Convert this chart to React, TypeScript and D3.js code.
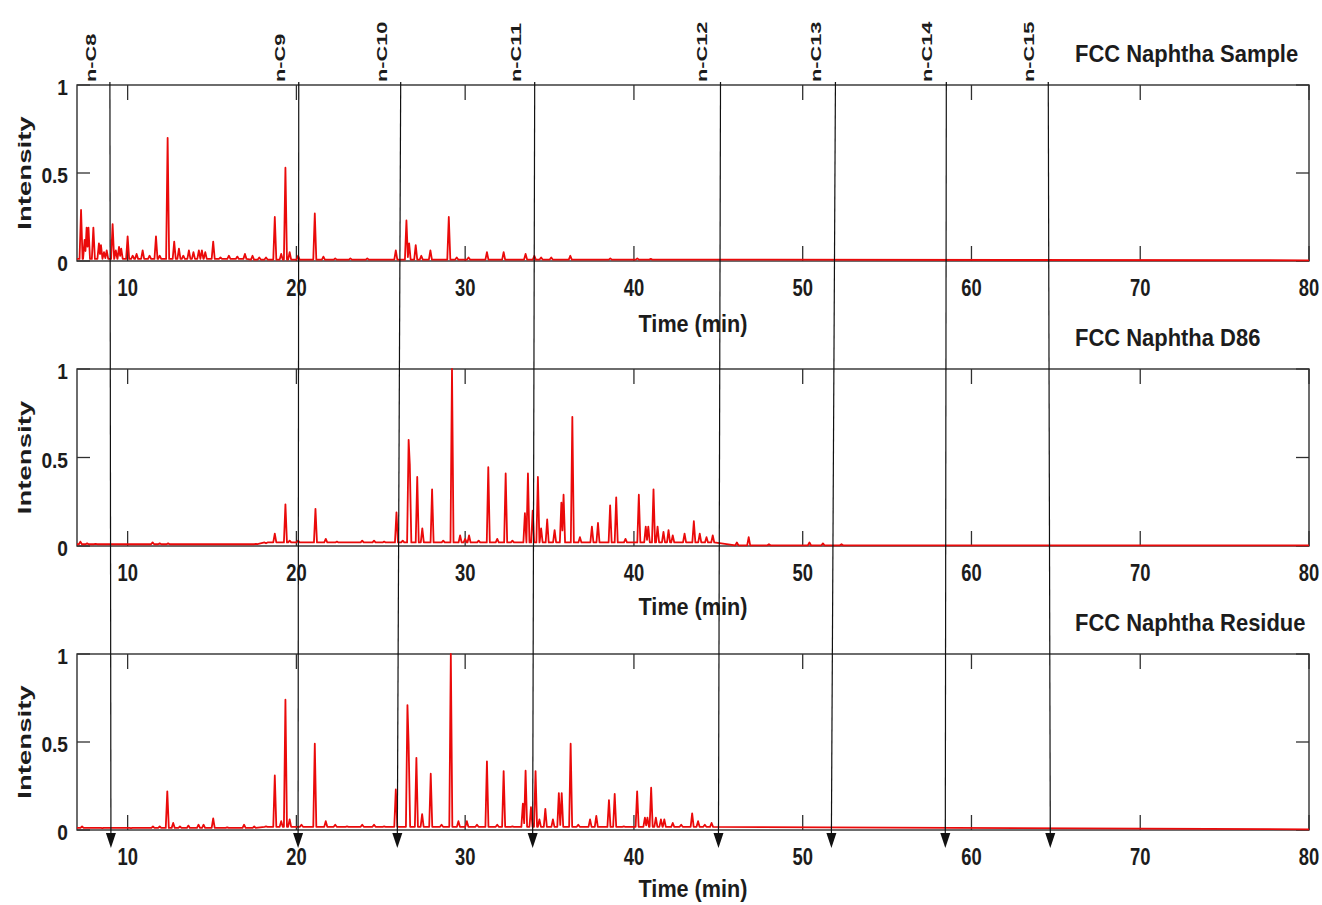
import React from 'react';
import * as d3 from 'd3';

// Retention-time axis (minutes) and intensity axis
const timeDomain: [number, number] = [7, 80];
const timeTicks = [10, 20, 30, 40, 50, 60, 70, 80];
const intensityTicks = [0, 0.5, 1];
const intensityTickLabels = ['0', '0.5', '1'];

// n-alkane reference markers: retention time where each marker crosses the top and the bottom
const alkaneLabels = ['n-C8', 'n-C9', 'n-C10', 'n-C11', 'n-C12', 'n-C13', 'n-C14', 'n-C15'];
const alkaneTopTimes = [8.95, 20.14, 26.18, 34.12, 45.13, 51.94, 58.51, 64.55];
const alkaneBottomTimes = [9.01, 20.1, 25.98, 34.0, 45.01, 51.7, 58.45, 64.67];

const panelTitles = ['FCC Naphtha Sample', 'FCC Naphtha D86', 'FCC Naphtha Residue'];

// Chromatogram peaks: [retention time (min), normalised intensity]
const samplePeaks: [number, number][] = [
  [7.24, 0.29], [7.45, 0.12], [7.57, 0.19], [7.68, 0.19], [7.97, 0.19], [8.3, 0.1], [8.42, 0.09],
  [8.6, 0.05], [8.76, 0.06], [9.11, 0.21], [9.3, 0.06], [9.49, 0.08], [9.62, 0.07], [10.0, 0.14],
  [10.3, 0.03], [10.53, 0.04], [10.89, 0.06], [11.3, 0.03], [11.68, 0.14], [11.9, 0.03], [12.37, 0.7],
  [12.76, 0.11], [13.04, 0.07], [13.3, 0.03], [13.63, 0.06], [13.9, 0.05], [14.22, 0.06], [14.4, 0.06],
  [14.6, 0.05], [15.07, 0.11], [15.5, 0.02], [16.0, 0.03], [16.5, 0.025], [16.95, 0.04], [17.4, 0.03],
  [17.8, 0.02], [18.2, 0.02], [18.72, 0.25], [19.1, 0.04], [19.35, 0.53], [19.6, 0.05], [20.1, 0.03],
  [21.09, 0.27], [21.6, 0.025], [22.3, 0.015], [23.2, 0.015], [24.2, 0.015], [25.89, 0.06], [26.52, 0.23],
  [26.68, 0.1], [27.07, 0.09], [27.4, 0.03], [27.94, 0.06], [29.03, 0.25], [29.5, 0.02], [30.2, 0.02],
  [31.29, 0.05], [32.28, 0.05], [33.58, 0.04], [34.1, 0.03], [34.5, 0.02], [35.1, 0.02], [36.23, 0.03],
  [38.6, 0.015], [40.2, 0.015], [41.0, 0.012],
];

const d86Peaks: [number, number][] = [
  [7.2, 0.025], [7.6, 0.015], [8.1, 0.012], [10.4, 0.01], [11.48, 0.02], [11.9, 0.015], [12.4, 0.015],
  [16.9, 0.01], [17.6, 0.012], [18.2, 0.015], [18.72, 0.07], [19.35, 0.235], [19.6, 0.03], [20.1, 0.03],
  [21.13, 0.21], [21.74, 0.04], [22.4, 0.025], [23.3, 0.02], [23.9, 0.03], [24.6, 0.03], [25.2, 0.025],
  [25.93, 0.19], [26.3, 0.03], [26.65, 0.6], [26.72, 0.46], [27.16, 0.39], [27.46, 0.1], [28.04, 0.32],
  [28.7, 0.03], [29.22, 1.0], [29.7, 0.06], [30.0, 0.04], [30.23, 0.06], [30.8, 0.03], [31.37, 0.445],
  [31.9, 0.04], [32.4, 0.41], [32.8, 0.03], [33.54, 0.185], [33.72, 0.41], [34.0, 0.2], [34.31, 0.39],
  [34.5, 0.1], [34.86, 0.15], [35.3, 0.09], [35.7, 0.245], [35.83, 0.29], [36.35, 0.73], [36.8, 0.05],
  [37.51, 0.11], [37.87, 0.13], [38.59, 0.23], [38.95, 0.275], [39.5, 0.04], [40.29, 0.29], [40.7, 0.11],
  [40.85, 0.11], [41.16, 0.32], [41.4, 0.11], [41.75, 0.08], [42.05, 0.09], [42.3, 0.06], [43.0, 0.07],
  [43.55, 0.14], [43.9, 0.07], [44.3, 0.05], [44.67, 0.06], [46.1, 0.02], [46.8, 0.05], [48.0, 0.01],
  [50.4, 0.02], [51.2, 0.015], [52.3, 0.01],
];

const residuePeaks: [number, number][] = [
  [7.3, 0.02], [8.5, 0.01], [10.2, 0.01], [11.5, 0.02], [11.9, 0.02], [12.35, 0.22], [12.7, 0.04],
  [13.1, 0.02], [13.6, 0.025], [14.2, 0.03], [14.5, 0.03], [15.07, 0.066], [15.9, 0.015], [16.9, 0.03],
  [17.5, 0.02], [18.2, 0.02], [18.72, 0.31], [19.1, 0.05], [19.35, 0.74], [19.6, 0.06], [20.3, 0.03],
  [21.09, 0.49], [21.74, 0.05], [22.3, 0.03], [23.0, 0.02], [23.9, 0.03], [24.6, 0.03], [25.2, 0.02],
  [25.89, 0.23], [26.58, 0.71], [26.65, 0.49], [27.11, 0.41], [27.45, 0.09], [27.96, 0.32], [28.6, 0.03],
  [29.15, 1.0], [29.6, 0.05], [30.1, 0.05], [30.7, 0.03], [31.29, 0.39], [31.9, 0.03], [32.28, 0.335],
  [32.8, 0.02], [33.42, 0.15], [33.58, 0.337], [33.9, 0.13], [34.17, 0.335], [34.4, 0.06], [34.75, 0.12],
  [35.2, 0.06], [35.55, 0.21], [35.72, 0.21], [36.25, 0.49], [36.7, 0.03], [37.4, 0.06], [37.77, 0.08],
  [38.52, 0.17], [38.86, 0.205], [39.4, 0.02], [40.19, 0.22], [40.65, 0.07], [40.8, 0.07], [41.02, 0.24],
  [41.3, 0.07], [41.6, 0.06], [41.8, 0.06], [42.3, 0.04], [42.8, 0.03], [43.45, 0.095], [43.8, 0.05],
  [44.2, 0.03], [44.6, 0.04],
];

// Baseline level of each trace: [time from which the level applies, level]
const sampleBaseline: [number, number][] = [[7, 0.012], [17, 0.008], [44, 0.004]];
const d86Baseline: [number, number][] = [[7, 0.01], [18, 0.02], [44.8, 0.004]];
const residueBaseline: [number, number][] = [[7, 0.012], [18, 0.018], [44.9, 0.004]];

const traces = [
  { peaks: samplePeaks, baseline: sampleBaseline },
  { peaks: d86Peaks, baseline: d86Baseline },
  { peaks: residuePeaks, baseline: residueBaseline },
];

// Layout
const WIDTH = 1322;
const HEIGHT = 905;
const PLOT_LEFT = 77;
const PLOT_RIGHT = 1309;
const panelTops = [85, 369, 654];
const panelBottoms = [261, 546, 830];
const axisTitleBaselines = [332, 615, 897];
const titleLeft = 1075;
const MARKER_TOP = 82;
const ARROW_TIP = 848;
const ARROW_LEN = 15;
const ARROW_HALF = 5;
const PEAK_HALF_WIDTH = 0.09;
const SHOULDER_GAP = 0.1;

const RED = '#ea0a0a';
const INK = '#1c1c1c';
const FRAME = '#303030';
const FONT = "'Liberation Sans', Arial, Helvetica, sans-serif";

// Each peak is a narrow spike on the baseline; neighbouring spikes that overlap
// meet where their flanks cross, and very close ones form a shoulder.
function tracePoints(peaks: [number, number][], baseline: [number, number][]): [number, number][] {
  const hw = PEAK_HALF_WIDTH;
  const level = (t: number) => {
    let v = baseline[0][1];
    for (const [bt, bv] of baseline) if (t >= bt) v = bv;
    return v;
  };
  const sorted = [...peaks].sort((a, b) => a[0] - b[0]);
  const pts: [number, number][] = [[timeDomain[0], level(timeDomain[0])]];
  sorted.forEach(([t, h], i) => {
    const prev = sorted[i - 1];
    if (!prev || prev[0] + hw < t - hw - 1e-6) {
      if (prev) pts.push([prev[0] + hw, level(prev[0])]);
      pts.push([t - hw, level(t)]);
    } else if (t - prev[0] >= SHOULDER_GAP) {
      const b = level(t);
      const s1 = (prev[1] - b) / hw;
      const s2 = (h - b) / hw;
      const tv = (prev[1] - b + s1 * prev[0] + s2 * (t - hw)) / (s1 + s2);
      if (tv > prev[0] && tv < t) pts.push([tv, prev[1] - s1 * (tv - prev[0])]);
    }
    pts.push([t, h]);
  });
  const last = sorted[sorted.length - 1];
  pts.push([last[0] + hw, level(last[0])]);
  pts.push([timeDomain[1], level(timeDomain[1])]);
  return pts;
}

type TextProps = {
  x: number;
  y: number;
  size: number;
  sx?: number;
  sy?: number;
  rotate?: number;
  anchor?: 'start' | 'middle' | 'end';
  children: React.ReactNode;
};

function Txt({ x, y, size, sx = 1, sy = 1, rotate = 0, anchor = 'middle', children }: TextProps) {
  return (
    <text
      transform={`translate(${x},${y}) rotate(${rotate}) scale(${sx},${sy})`}
      fontSize={size}
      textAnchor={anchor}
      fill={INK}
      fontWeight="bold"
      fontFamily={FONT}
    >
      {children}
    </text>
  );
}

export default function App() {
  const x = d3.scaleLinear().domain(timeDomain).range([PLOT_LEFT, PLOT_RIGHT]);

  return (
    <svg
      width={WIDTH}
      height={HEIGHT}
      viewBox={`0 0 ${WIDTH} ${HEIGHT}`}
      style={{ position: 'absolute', left: 0, top: 0, background: '#fff' }}
    >
      <rect x={0} y={0} width={WIDTH} height={HEIGHT} fill="#fff" />
      <defs>
        {panelTops.map((top, i) => (
          <clipPath id={`plot-clip-${i}`} key={i}>
            <rect x={PLOT_LEFT} y={top - 1} width={PLOT_RIGHT - PLOT_LEFT} height={panelBottoms[i] - top + 2} />
          </clipPath>
        ))}
      </defs>

      {traces.map((tr, i) => {
        const top = panelTops[i];
        const bottom = panelBottoms[i];
        const y = d3.scaleLinear().domain([0, 1]).range([bottom, top]);
        const line = d3
          .line<[number, number]>()
          .x((d) => x(d[0]))
          .y((d) => y(d[1]));
        const path = line(tracePoints(tr.peaks, tr.baseline)) || '';
        const midY = (top + bottom) / 2;
        return (
          <g key={i}>
            {/* frame */}
            <rect
              x={PLOT_LEFT}
              y={top}
              width={PLOT_RIGHT - PLOT_LEFT}
              height={bottom - top}
              fill="none"
              stroke={FRAME}
              strokeWidth={1.4}
            />
            {/* inward time ticks, top and bottom */}
            {timeTicks.map((t) => (
              <g key={t}>
                <line x1={x(t)} x2={x(t)} y1={bottom} y2={bottom - 15} stroke={FRAME} strokeWidth={1.3} />
                <line x1={x(t)} x2={x(t)} y1={top} y2={top + 15} stroke={FRAME} strokeWidth={1.3} />
                <Txt x={x(t)} y={bottom + 35} size={23} sx={0.8}>
                  {t}
                </Txt>
              </g>
            ))}
            {/* intensity ticks, left and right */}
            {intensityTicks.map((v, k) => (
              <g key={v}>
                <line x1={PLOT_LEFT} x2={PLOT_LEFT + 13} y1={y(v)} y2={y(v)} stroke={FRAME} strokeWidth={1.3} />
                <line x1={PLOT_RIGHT - 13} x2={PLOT_RIGHT} y1={y(v)} y2={y(v)} stroke={FRAME} strokeWidth={1.3} />
                <Txt x={68} y={y(v) + 10} size={22} sx={0.87} anchor="end">
                  {intensityTickLabels[k]}
                </Txt>
              </g>
            ))}
            {/* trace, drawn over the frame so the zero line shows red */}
            <path
              d={path}
              fill="none"
              stroke={RED}
              strokeWidth={1.8}
              strokeLinejoin="round"
              clipPath={`url(#plot-clip-${i})`}
            />
            <Txt x={31} y={midY} size={19} sx={1.45} rotate={-90}>
              Intensity
            </Txt>
            <Txt x={(PLOT_LEFT + PLOT_RIGHT) / 2} y={axisTitleBaselines[i]} size={23} sx={0.94}>
              Time (min)
            </Txt>
            <Txt x={titleLeft} y={top - 23} size={23} sx={0.955} anchor="start">
              {panelTitles[i]}
            </Txt>
          </g>
        );
      })}

      {/* n-alkane markers running through all three chromatograms */}
      {alkaneLabels.map((label, i) => {
        const xt = x(alkaneTopTimes[i]);
        const xb = x(alkaneBottomTimes[i]);
        return (
          <g key={label}>
            <line x1={xt} y1={MARKER_TOP} x2={xb} y2={ARROW_TIP - ARROW_LEN + 2} stroke="#111" strokeWidth={1.2} />
            <polygon
              points={`${xb - ARROW_HALF},${ARROW_TIP - ARROW_LEN} ${xb + ARROW_HALF},${ARROW_TIP - ARROW_LEN} ${xb},${ARROW_TIP}`}
              fill="#111"
            />
            <Txt x={xt - 14} y={MARKER_TOP} size={15.5} sx={1.4} rotate={-90} anchor="start">
              {label}
            </Txt>
          </g>
        );
      })}
    </svg>
  );
}
